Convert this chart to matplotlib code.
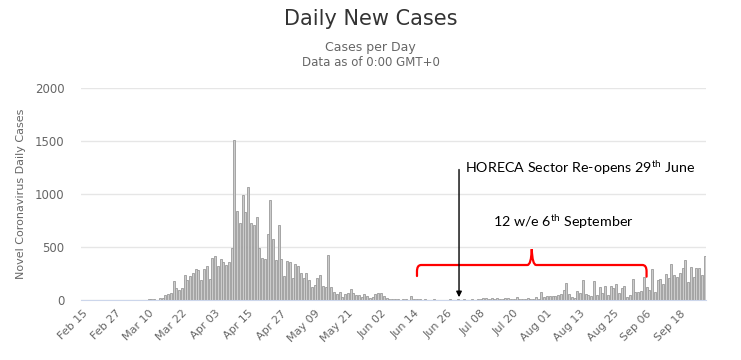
import matplotlib
matplotlib.use("Agg")
import matplotlib.pyplot as plt
from matplotlib.path import Path
from matplotlib.patches import PathPatch
import pandas as pd

# daily new cases, one value per day starting Feb 15
start_date = "2020-02-15"
cases = [0] * 24 + [
    10, 9, 13, 3, 22, 22, 44, 54, 63, 180,           # d24 - d33
    117, 95, 110, 237, 190, 228, 253, 297, 284, 190,  # d34 - d43
    291, 316, 200, 395, 417, 316, 385, 363, 332, 354, # d44 - d53
    490, 1510, 840, 725, 995, 830, 1070, 725, 706, 779,  # d54 - d63
    490, 395, 382, 626, 940, 580, 375, 706, 388, 223,    # d64 - d73
    366, 356, 207, 335, 325, 258, 205, 258, 191, 127,    # d74 - d83
    143, 210, 232, 134, 120, 423, 121, 80, 57, 73,       # d84 - d93
    32, 54, 64, 102, 64, 45, 45, 25, 54, 33,             # d94 - d103
    20, 31, 57, 69, 63, 38, 16, 12, 10, 8,               # d104 - d113
    6, 3, 6, 5, 4, 38, 12, 5, 8, 3,                      # d114 - d123
    5, 2, 4, 6, 3, 2, 4, 3, 2, 5,                        # d124 - d133
    3, 4, 6, 2, 5, 3, 4, 9, 4, 6,                        # d134 - d143
    5, 16, 22, 13, 16, 6, 22, 6, 12, 16,                 # d144 - d153
    22, 5, 6, 25, 13, 5, 13, 22, 6, 5,                   # d154 - d163
    31, 6, 75, 30, 40, 41, 40, 40, 45, 60,               # d164 - d173
    94, 163, 57, 31, 22, 85, 69, 185, 53, 47,            # d174 - d183
    41, 179, 47, 119, 63, 135, 47, 135, 110, 148,        # d184 - d193
    69, 116, 132, 31, 47, 198, 79, 79, 85, 220,          # d194 - d203
    122, 94, 292, 79, 188, 198, 148, 245, 204, 339,      # d204 - d213
    236, 214, 251, 298, 380, 173, 314, 220, 298, 305,    # d214 - d223
    236, 418,                                            # d224 - d225
]
dates = pd.date_range(start_date, periods=len(cases), freq="D")
tick_step = 12
tick_labels = [d.strftime("%b %d") for d in dates[::tick_step]]
y_ticks = [0, 500, 1000, 1500, 2000]

# annotations (in day index / case units)
horeca_day = 136.2
horeca_top = 1257
bracket_start = 121
bracket_end = 204
bracket_level = 330

plt.rcParams["font.family"] = "DejaVu Sans"
plt.rcParams["mathtext.fontset"] = "custom"
plt.rcParams["mathtext.rm"] = "Lato"

fig = plt.figure(figsize=(7.41, 3.60), dpi=100)
ax = fig.add_axes([0.1092, 0.1667, 0.8436, 0.5889])

x = list(range(len(cases)))
ax.bar(x, cases, width=0.72, color="#cccccc", edgecolor="#9a9a9a", linewidth=0.6, zorder=3)

ax.set_xlim(-0.5, len(cases) - 0.5)
ax.set_ylim(0, 2000)
ax.set_yticks(y_ticks)
ax.set_yticklabels([str(v) for v in y_ticks], fontsize=8.5, color="#666666")
ax.set_xticks(x[::tick_step])
ax.set_xticklabels(tick_labels, rotation=45, ha="right", rotation_mode="anchor",
                   fontsize=8, color="#666666")
ax.tick_params(axis="x", length=0, pad=6)
ax.tick_params(axis="y", length=0, pad=12)
ax.yaxis.grid(True, color="#e6e6e6", linewidth=1, zorder=0)
for side in ["top", "right", "left"]:
    ax.spines[side].set_visible(False)
ax.spines["bottom"].set_color("#ccd6eb")
ax.spines["bottom"].set_zorder(4)
ax.set_ylabel("Novel Coronavirus Daily Cases", fontsize=8, color="#666666", labelpad=6)

fig.text(0.5, 0.948, "Daily New Cases", ha="center", va="center", fontsize=15, color="#333333")
fig.text(0.5, 0.867, "Cases per Day", ha="center", va="center", fontsize=9, color="#666666")
fig.text(0.5, 0.825, "Data as of 0:00 GMT+0", ha="center", va="center", fontsize=8.5, color="#666666")

# HORECA arrow
ax.annotate("", xy=(horeca_day, 0), xytext=(horeca_day, horeca_top),
            arrowprops=dict(arrowstyle="-|>", color="black", lw=1, mutation_scale=8),
            zorder=6)
ax.text(horeca_day + 2.3, 1250, r"HORECA Sector Re-opens 29$^{\mathrm{th}}$ June",
        fontsize=10.3, family="Lato", va="center", ha="left", zorder=6)
ax.text(174, 738, r"12 w/e 6$^{\mathrm{th}}$ September",
        fontsize=10.3, family="Lato", va="center", ha="center", zorder=6)

# red curly bracket
mid = (bracket_start + bracket_end) / 2
lvl = bracket_level
verts = [
    (bracket_start, 226), (bracket_start, lvl - 60),
    (bracket_start, lvl), (bracket_start + 1.5, lvl),
    (mid - 1.6, lvl),
    (mid - 0.2, lvl), (mid, 480),
    (mid + 0.2, lvl), (mid + 1.6, lvl),
    (bracket_end - 1.5, lvl),
    (bracket_end, lvl), (bracket_end, lvl - 60),
    (bracket_end, 220),
]
codes = [Path.MOVETO, Path.LINETO,
         Path.CURVE3, Path.CURVE3,
         Path.LINETO,
         Path.CURVE3, Path.CURVE3,
         Path.CURVE3, Path.CURVE3,
         Path.LINETO,
         Path.CURVE3, Path.CURVE3,
         Path.LINETO]
ax.add_patch(PathPatch(Path(verts, codes), facecolor="none", edgecolor="#ff0000",
                       lw=1.6, zorder=5, capstyle="round"))

fig.savefig("out.png", dpi=100)
